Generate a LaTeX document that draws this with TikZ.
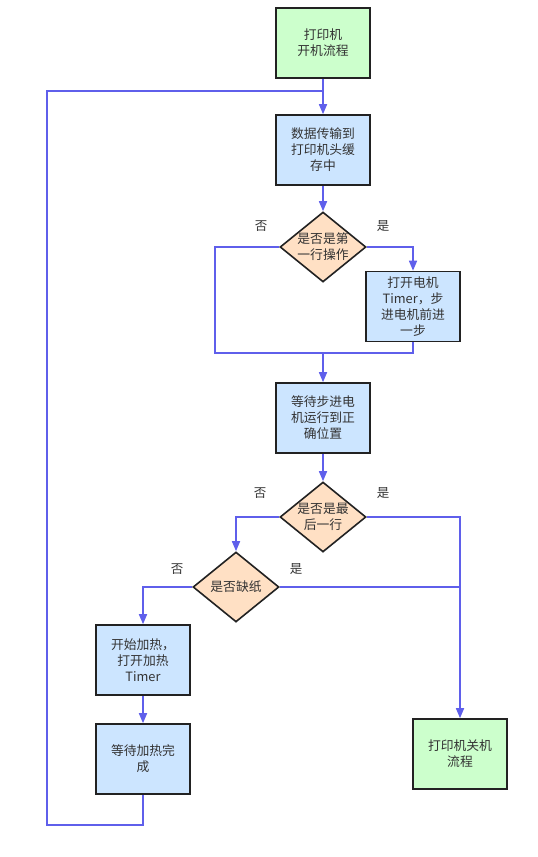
\documentclass[tikz,border=0pt]{standalone}
\usepackage{fontspec}
\setmainfont{Noto Sans CJK SC}
\usetikzlibrary{shapes.geometric,arrows.meta,calc}
\definecolor{lineblue}{RGB}{95,95,235}
\definecolor{boxblue}{RGB}{204,229,255}
\definecolor{boxgreen}{RGB}{204,255,204}
\definecolor{diapeach}{RGB}{255,224,196}
\definecolor{txt}{RGB}{51,51,51}
\definecolor{edge}{RGB}{34,34,34}
\tikzset{
  every node/.style={text=txt, font=\fontsize{12.8}{16}\selectfont},
  procbox/.style={draw=edge, line width=1.6pt, rectangle, minimum width=94pt, minimum height=70pt, inner sep=2pt, align=center, fill=boxblue},
  termbox/.style={procbox, fill=boxgreen},
  decbox/.style={draw=edge, line width=1.6pt, diamond, minimum width=86pt, minimum height=70pt, inner sep=0pt, fill=diapeach},
  conn/.style={draw=lineblue, line width=1.6pt},
  arr/.style={conn, -{Triangle[length=10pt,width=8pt]}},
  branch/.style={font=\fontsize{12.5}{14}\selectfont}
}
\begin{document}
\begin{tikzpicture}[x=1pt,y=-1pt]
\useasboundingbox (0,0) rectangle (538,857);
% nodes
\node[termbox] (start) at (323,43) {打印机\\开机流程};
\node[procbox] (b2) at (323,150) {数据传输到\\打印机头缓\\存中};
\node[decbox] (d1) at (323,247) {};
\node[align=center] (d1t) at (323,247) {是否是第\\一行操作};
\node[procbox] (b3) at (413,306.5) {打开电机\\Timer，步\\进电机前进\\一步};
\node[procbox] (b4) at (323,418) {等待步进电\\机运行到正\\确位置};
\node[decbox] (d2) at (323,517) {};
\node[align=center] (d2t) at (323,517) {是否是最\\后一行};
\node[decbox] (d3) at (236,587) {};
\node[align=center] (d3t) at (236,587) {是否缺纸};
\node[procbox] (b5) at (143,660) {开始加热，\\打开加热\\Timer};
\node[procbox] (b6) at (143,759) {等待加热完\\成};
\node[termbox] (end) at (460,754) {打印机关机\\流程};
% branch labels
\node[branch] (n1) at (261,226) {否};
\node[branch] (y1) at (383,226) {是};
\node[branch] (n2) at (260,493) {否};
\node[branch] (y2) at (383,493) {是};
\node[branch] (n3) at (177,569) {否};
\node[branch] (y3) at (296,569) {是};
% coordinates
\coordinate (j1) at (323,91);
\coordinate (lb) at (47,825);
\coordinate (m1) at (323,353);
\coordinate (l1) at (215,353);
% connectors
\draw[arr] (start.south) -- (b2.north);
\draw[arr] (b2.south) -- (d1.north);
\draw[arr] (d1.east) -| (b3.north);
\draw[conn] (d1.west) -| (l1) -- (m1);
\draw[conn] (b3.south) |- (m1);
\draw[arr] (m1) -- (b4.north);
\draw[arr] (b4.south) -- (d2.north);
\draw[arr] (d2.west) -| (d3.north);
\draw[arr] (d2.east) -| (end.north);
\draw[conn] (d3.east) -- (d3.east -| end.north);
\draw[arr] (d3.west) -| (b5.north);
\draw[arr] (b5.south) -- (b6.north);
\draw[conn] (b6.south) |- (lb) |- (j1);
\end{tikzpicture}
\end{document}
